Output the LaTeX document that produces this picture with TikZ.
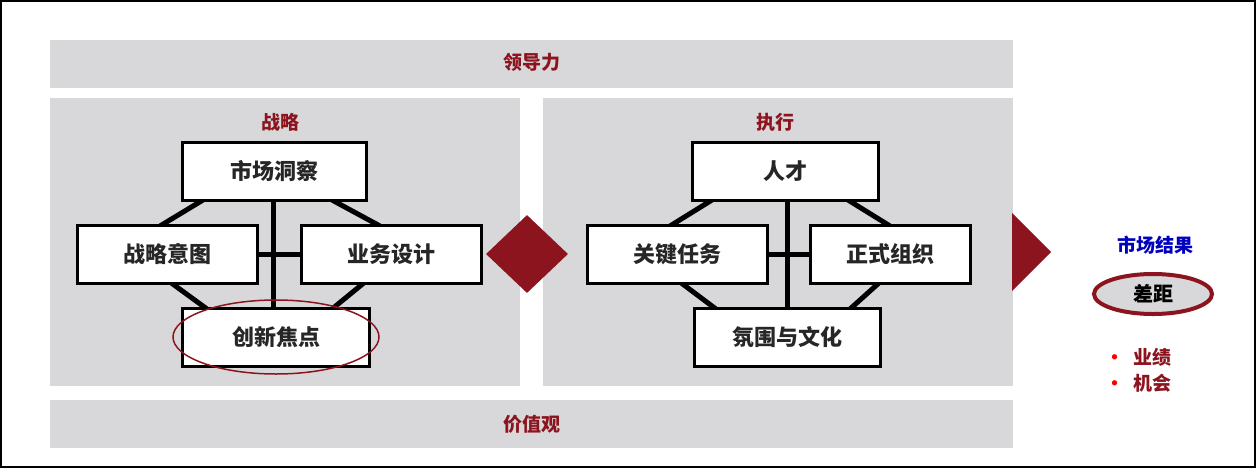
\documentclass[tikz,border=0pt]{standalone}
\usepackage{fontspec}
\setmainfont{Noto Sans CJK SC}
\usetikzlibrary{shapes.geometric,calc}
\definecolor{dred}{RGB}{140,20,30}
\definecolor{pgray}{RGB}{216,216,218}
\begin{document}
\begin{tikzpicture}[x=1pt,y=-1pt,
  bar/.style={fill=pgray,draw=none},
  bx/.style={draw=black,line width=3pt,fill=white,minimum width=180pt,minimum height=58pt,font=\fontsize{22}{26}\selectfont\bfseries,text=black!85},
  ttl/.style={text=dred,font=\fontsize{19}{22}\selectfont\bfseries},
  cn/.style={line width=5pt,black}]
\useasboundingbox (0,0) rectangle (1256,472);
\draw[line width=1.5pt] (1,1) rectangle (1255,467);
\fill[bar] (50,40) rectangle (1013,88);
\fill[bar] (50,98) rectangle (520,386);
\fill[bar] (543,98) rectangle (1013,386);
\fill[bar] (50,400) rectangle (1013,448);
\node[ttl] (lead) at (532,62) {领导力};
\node[ttl] (val) at (532,424) {价值观};
\node[ttl] (s) at (280,122) {战略};
\node[ttl] (e) at (775,122) {执行};
% left connectors
\draw[cn] (273,200) -- (273,307);
\draw[cn] (257,254) -- (301,254);
\draw[cn] (203,200) -- (160,226);
\draw[cn] (332,200) -- (380,226);
\draw[cn] (170,282) -- (207,309);
\draw[cn] (365,282) -- (332,309);
% right connectors
\draw[cn] (787,200) -- (787,307);
\draw[cn] (767,254) -- (811,254);
\draw[cn] (712,200) -- (670,226);
\draw[cn] (848,200) -- (890,226);
\draw[cn] (680,282) -- (716,309);
\draw[cn] (880,282) -- (850,309);
\node[bx,minimum width=184pt] (mi) at (274,171) {市场洞察};
\node[bx] (si) at (167,254) {战略意图};
\node[bx] (bd) at (391,254) {业务设计};
\node[bx,minimum width=187pt] (inn) at (276,337) {创新焦点};
\node[bx,minimum width=186pt] (tal) at (785,171) {人才};
\node[bx] (kt) at (677,254) {关键任务};
\node[bx,minimum width=160pt] (fo) at (890,254) {正式组织};
\node[bx,minimum width=186pt] (cul) at (787,337) {氛围与文化};
\draw[dred,line width=1.5pt] (inn) ellipse (103pt and 37pt);
\node[diamond,fill=dred,minimum width=82pt,minimum height=78pt,inner sep=0pt] (dia) at (527,254) {};
\fill[dred] (1012,213) -- (1051,252) -- (1012,291) -- cycle;
\node[text=blue!75!black,font=\fontsize{19}{22}\selectfont\bfseries] (mr) at (1155,245) {市场结果};
\node[ellipse,draw=dred,line width=4pt,fill=pgray,minimum width=118pt,minimum height=40pt,font=\fontsize{20}{24}\selectfont\bfseries] (gap) at (1153,294) {差距};
\node[text=dred,font=\fontsize{19}{22}\selectfont\bfseries,anchor=west] (p1) at (1102,357) {{\color{red}·}\ \ 业绩};
\node[text=dred,font=\fontsize{19}{22}\selectfont\bfseries,anchor=west] (p2) at (1102,383) {{\color{red}·}\ \ 机会};
\end{tikzpicture}
\end{document}
